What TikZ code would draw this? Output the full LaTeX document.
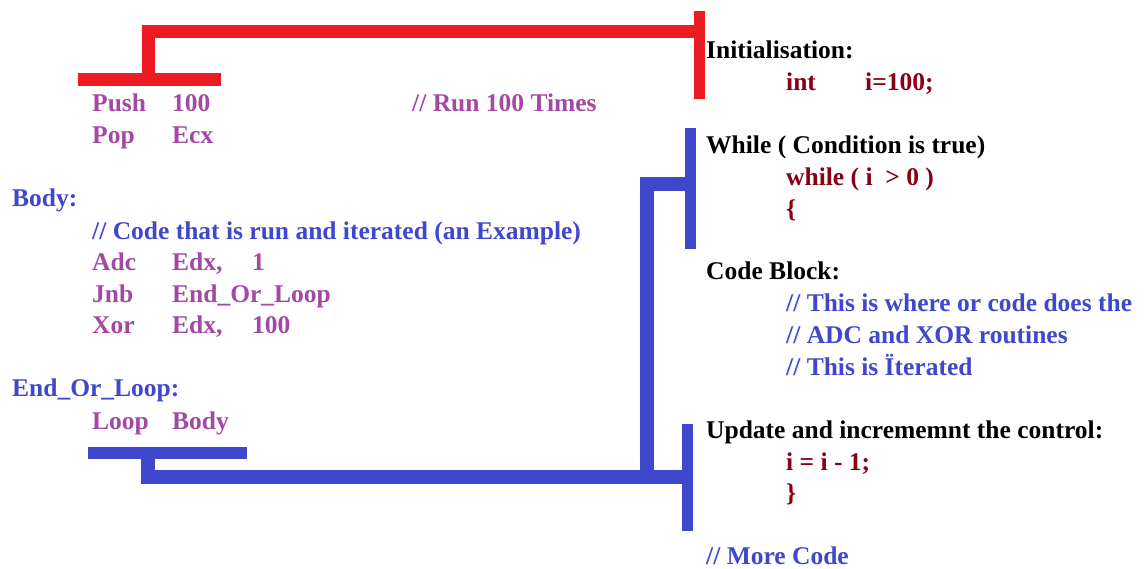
\documentclass[tikz,border=0pt]{standalone}
\usepackage{fontspec}
\setmainfont{Liberation Serif}
\definecolor{barred}{HTML}{ED1C24}
\definecolor{barblue}{HTML}{3F48CC}
\definecolor{txtpurple}{HTML}{A349A4}
\definecolor{txtblue}{HTML}{3F48CC}
\definecolor{txtred}{HTML}{880015}
\newcommand{\colA}[1]{\makebox[80pt][l]{#1}}
\newcommand{\colB}[1]{\makebox[79pt][l]{#1}}
\begin{document}
\begin{tikzpicture}[x=1pt,y=-1pt,
  txt/.style={anchor=base west, inner sep=0pt, font=\fontsize{25.5}{30}\selectfont\bfseries},
  asm/.style={txt, text=txtpurple},
  lbl/.style={txt, text=txtblue},
  hd/.style={txt, text=black},
  cc/.style={txt, text=txtred},
  redbar/.style={draw=barred, line width=13pt},
  bluebar/.style={draw=barblue, line width=14pt},
  endbar/.style={line width=11pt},
]
\useasboundingbox[fill=white] (0,0) rectangle (1148,568);

% left assembly text
\node[asm] (push) at (92,111.5) {\colA{Push}100};
\node[asm] (run) at (412,111.5) {// Run 100 Times};
\node[asm] (pop) at (92,143.5) {\colA{Pop}Ecx};
\node[lbl] (body) at (12,206.5) {Body:};
\node[lbl] (cmt) at (92,239.5) {// Code that is run and iterated (an Example)};
\node[asm] (adc) at (92,270.5) {\colA{Adc}\colA{Edx,}1};
\node[asm] (jnb) at (92,302) {\colA{Jnb}End\_Or\_Loop};
\node[asm] (xor) at (92,333.5) {\colA{Xor}\colA{Edx,}100};
\node[lbl] (endl) at (12,396.5) {End\_Or\_Loop:};
\node[asm] (loop) at (92,429) {\colA{Loop}Body};

% right C text
\node[hd] (init) at (706,58) {Initialisation:};
\node[cc] (intd) at (786,90.5) {\colB{int}i=100;};
\node[hd] (whileh) at (706,153.5) {While ( Condition is true)};
\node[cc] (whilec) at (786,185.5) {while ( i\ \ > 0 )};
\node[cc] (lbrace) at (786,217) {\{};
\node[hd] (codeb) at (706,279.5) {Code Block:};
\node[lbl] (c1) at (786,311.5) {// This is where or code does the};
\node[lbl] (c2) at (786,343.5) {// ADC and XOR routines};
\node[lbl] (c3) at (786,375.5) {// This is Ïterated};
\node[hd] (upd) at (706,438.5) {Update and incrememnt the control:};
\node[cc] (dec) at (786,470.5) {i = i - 1;};
\node[cc] (rbrace) at (786,501) {\}};
\node[lbl] (more) at (706,564.5) {// More Code};

% red bracket: push/pop  <->  initialisation
\coordinate (rl) at (78,79);
\coordinate (rr) at (221,79);
\coordinate (rs) at (148,79);
\coordinate (rt) at (699.5,31);
\coordinate (rtop) at (699.5,11);
\coordinate (rbot) at (699.5,99);
\draw[redbar] (rl) -- (rr);
\draw[redbar] (rs) -- (rs |- rt) -- (rt);
\draw[draw=barred, endbar] (rtop) -- (rbot);

% blue bracket: loop  <->  while / update
\coordinate (wtop) at (690.5,128);
\coordinate (wbot) at (690.5,249);
\coordinate (wj) at (690.5,184);
\coordinate (utop) at (687.5,424);
\coordinate (ubot) at (687.5,531);
\coordinate (uj) at (687.5,477);
\coordinate (bv) at (646.5,184);
\coordinate (bl) at (88,453);
\coordinate (br) at (247,453);
\coordinate (bs) at (148,453);
\draw[draw=barblue, endbar] (wtop) -- (wbot);
\draw[draw=barblue, endbar] (utop) -- (ubot);
\draw[draw=barblue, line width=12pt] (bl) -- (br);
\draw[bluebar] (wj) -- (bv) -- (bv |- uj) -- (bs |- uj) -- (bs);
\draw[bluebar] (bv |- uj) -- (uj);
\end{tikzpicture}
\end{document}
